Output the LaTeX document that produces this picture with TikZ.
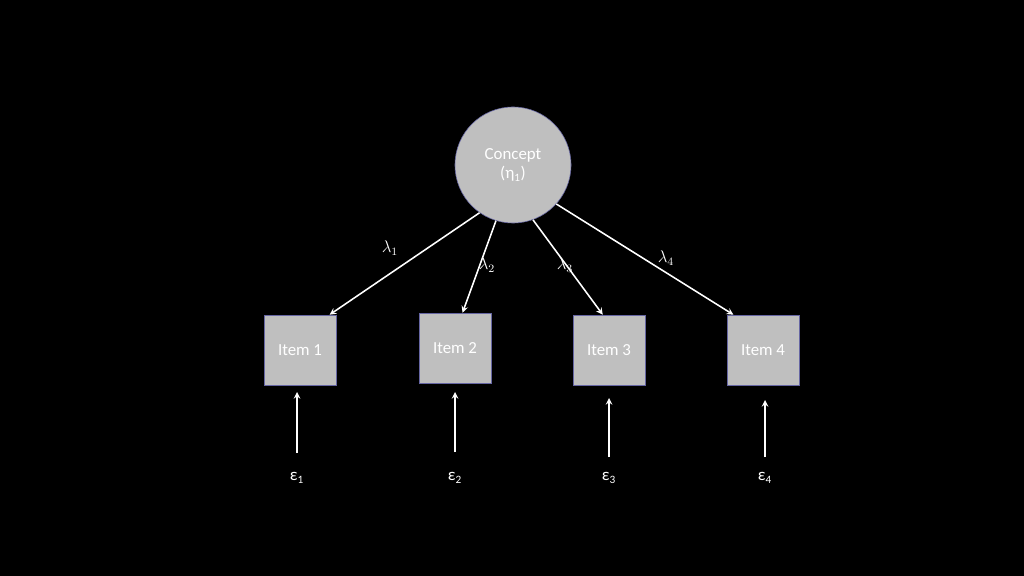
\documentclass[tikz,border=0pt]{standalone}
\usepackage{fontspec}
\setmainfont{Carlito}
\usetikzlibrary{positioning}
\tikzset{
  itembox/.style={draw=black!60!blue!60, fill=gray!50, minimum width=1.8cm, minimum height=1.75cm, text=white, font=\fontsize{12}{14}\selectfont},
  loadarrow/.style={->, >=stealth, white, line width=1.1pt},
  lbl/.style={text=white, font=\fontsize{12}{14}\selectfont}
}
\begin{document}
\begin{tikzpicture}[x=0.025cm, y=-0.025cm]
        % background
        \fill[black] (0,0) rectangle (1024,576);
        % concept
        \node[circle, draw=black!60!blue!60, fill=gray!50, minimum size=2.9cm, text=white, align=center, font=\fontsize{12}{14}\selectfont] (eta) at (513,165) {Concept\\(η\textsubscript{1})};
        % items
        \node[itembox] (item1) at (300,350) {Item 1};
        \node[itembox] (item2) at (455,348) {Item 2};
        \node[itembox] (item3) at (609,350) {Item 3};
        \node[itembox] (item4) at (763,350) {Item 4};
        % loadings
        \draw[loadarrow] (eta.235) -- (item1.50);
        \draw[loadarrow] (eta.253) -- (item2.78);
        \draw[loadarrow] (eta.290) -- (item3.100);
        \draw[loadarrow] (eta.318) -- (item4.130);
        \node[lbl] (l1) at (390,248) {$\lambda_1$};
        \node[lbl] (l2) at (487,265) {$\lambda_2$};
        \node[lbl] (l3) at (565,265) {$\lambda_3$};
        \node[lbl] (l4) at (666,258) {$\lambda_4$};
        % errors
        \node[lbl] (e1) at (297,478) {ε\textsubscript{1}};
        \node[lbl] (e2) at (455,478) {ε\textsubscript{2}};
        \node[lbl] (e3) at (609,478) {ε\textsubscript{3}};
        \node[lbl] (e4) at (765,478) {ε\textsubscript{4}};
        \draw[loadarrow] (297,453) -- (297,392);
        \draw[loadarrow] (455,452) -- (455,392);
        \draw[loadarrow] (609,457) -- (609,398);
        \draw[loadarrow] (765,457) -- (765,400);
\end{tikzpicture}
\end{document}
